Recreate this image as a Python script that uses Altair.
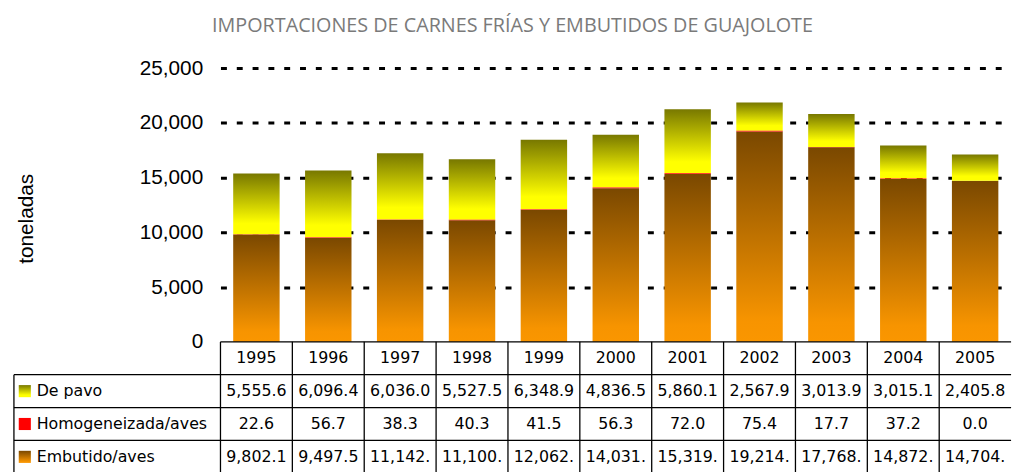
import altair as alt
import pandas as pd

# ---------------- data ----------------
years = ["1995", "1996", "1997", "1998", "1999", "2000", "2001", "2002", "2003", "2004", "2005"]
de_pavo = [5555.6, 6096.4, 6036.0, 5527.5, 6348.9, 4836.5, 5860.1, 2567.9, 3013.9, 3015.1, 2405.8]
homogeneizada = [22.6, 56.7, 38.3, 40.3, 41.5, 56.3, 72.0, 75.4, 17.7, 37.2, 0.0]
embutido = [9802.1, 9497.5, 11142.0, 11100.0, 12062.0, 14031.0, 15319.0, 19214.0, 17768.0, 14872.0, 14704.0]
series = ["De pavo", "Homogeneizada/aves", "Embutido/aves"]
y_ticks = [0, 5000, 10000, 15000, 20000, 25000]
title_text = "IMPORTACIONES DE CARNES FRÍAS Y EMBUTIDOS DE GUAJOLOTE"
y_title = "toneladas"

# ---------------- layout / style ----------------
W = 800
H_PLOT = 277
ROW_H = 33.25
rows = ["header"] + series
H_TAB = ROW_H * len(rows)
LABEL_COL = 209


def grad(stops):
    return alt.Gradient(
        gradient="linear",
        stops=[alt.GradientStop(color=c, offset=o) for c, o in stops],
        x1=0, x2=0, y1=0, y2=1,
    )


G_PAVO = grad([("#787800", 0), ("#ffff00", 0.82), ("#ffff00", 1)])
G_EMB = grad([("#7a4800", 0), ("#f79400", 0.9), ("#fa9600", 1)])
RED = "#ff0000"

wide = pd.DataFrame({"year": years, "pavo": de_pavo, "homog": homogeneizada, "emb": embutido})

# ---------------- bar panel ----------------
xbar = alt.X("year:N", sort=years, axis=None,
             scale=alt.Scale(domain=years, paddingInner=0.354, paddingOuter=0.177))
yscale = alt.Scale(domain=[0, 25000], nice=False)
yaxis = alt.Axis(
    values=y_ticks, format=",.0f",
    labelFont="Liberation Sans", labelFontSize=21, labelColor="black", labelPadding=18,
    ticks=False, domain=False,
    gridColor="black", gridWidth=3, gridDash=[6, 10],
    gridOpacity={"condition": {"test": "datum.value === 0", "value": 0}, "value": 1},
    title=y_title, titleFont="Liberation Sans", titleFontSize=21, titleFontWeight="normal",
    titleColor="black", titleX=-196, titleY=152, titleAlign="center", titleBaseline="middle",
    titleAngle=270,
)

base = alt.Chart(wide)
emb_bar = base.mark_bar(color=G_EMB).encode(
    x=xbar, y=alt.Y("emb:Q", scale=yscale, axis=yaxis))
homog_bar = base.transform_calculate(
    lo="datum.emb", hi="datum.emb + datum.homog"
).mark_bar(color=RED).encode(x=xbar, y=alt.Y("lo:Q", scale=yscale), y2="hi:Q")
pavo_bar = base.transform_calculate(
    lo="datum.emb + datum.homog", hi="datum.emb + datum.homog + datum.pavo"
).mark_bar(color=G_PAVO).encode(x=xbar, y=alt.Y("lo:Q", scale=yscale), y2="hi:Q")

top = alt.layer(emb_bar, pavo_bar, homog_bar).properties(width=W, height=H_PLOT)

# ---------------- data table panel ----------------
long_rows = []
for s, vals in zip(series, [de_pavo, homogeneizada, embutido]):
    for yr, v in zip(years, vals):
        long_rows.append({"row": s, "year": yr, "value": v})
long_df = pd.DataFrame(long_rows)
hdr_df = pd.DataFrame({"row": ["header"] * len(years), "year": years})
ser_df = pd.DataFrame({"row": series})

xtab_scale = alt.Scale(domain=years, paddingInner=0, paddingOuter=0)
xtab = alt.X("year:N", axis=None, scale=xtab_scale)
ytab_scale = alt.Scale(domain=rows, paddingInner=0, paddingOuter=0)
ytab = alt.Y("row:N", axis=None, scale=ytab_scale)
ytab_edge = alt.Y("row:N", axis=None, scale=ytab_scale, bandPosition=0)

TXT = dict(font="DejaVu Sans", fontSize=16, color="black", baseline="middle")
LINE = dict(color="black", strokeWidth=1.3)

hdr_line = alt.Chart(pd.DataFrame({"row": ["header"]})).mark_rule(**LINE).encode(
    y=ytab_edge, x=alt.value(0), x2=alt.value(W))
row_lines = alt.Chart(ser_df).mark_rule(**LINE).encode(
    y=ytab_edge, x=alt.value(-LABEL_COL), x2=alt.value(W))
col_lines = alt.Chart(pd.DataFrame({"year": years})).mark_rule(**LINE).encode(
    x=alt.X("year:N", axis=None, scale=xtab_scale, bandPosition=0),
    y=alt.value(0), y2=alt.value(H_TAB))
left_line = alt.Chart(pd.DataFrame({"k": [0]})).mark_rule(**LINE).encode(
    x=alt.value(-LABEL_COL), y=alt.value(ROW_H), y2=alt.value(H_TAB))

hdr_text = alt.Chart(hdr_df).mark_text(align="center", **TXT).encode(
    x=xtab, y=ytab, text="year:N")
val_text = alt.Chart(long_df).transform_calculate(
    label="substring(format(datum.value, ',.1f'), 0, 7)"
).mark_text(align="center", **TXT).encode(x=xtab, y=ytab, text="label:N")
lab_text = alt.Chart(ser_df).mark_text(align="left", **TXT).encode(
    x=alt.value(-LABEL_COL + 23), y=ytab, text="row:N")

swatches = []
for s, col in zip(series, [G_PAVO, RED, G_EMB]):
    swatches.append(
        alt.Chart(pd.DataFrame({"row": [s]})).mark_square(
            color=col, size=150, opacity=1, filled=True
        ).encode(x=alt.value(-LABEL_COL + 11), y=ytab)
    )

bottom = alt.layer(hdr_line, row_lines, col_lines, left_line,
                   hdr_text, val_text, lab_text, *swatches).properties(width=W, height=H_TAB)

chart = alt.vconcat(top, bottom, spacing=0, bounds="flush").resolve_scale(
    x="independent", y="independent"
).properties(
    title=alt.TitleParams(title_text, font="Open Sans", fontSize=20, color="#7a7a7a",
                          fontWeight="normal", anchor="middle", offset=22)
).configure_view(strokeWidth=0)

chart.save("out.html", embed_options={"renderer": "svg", "actions": False})
